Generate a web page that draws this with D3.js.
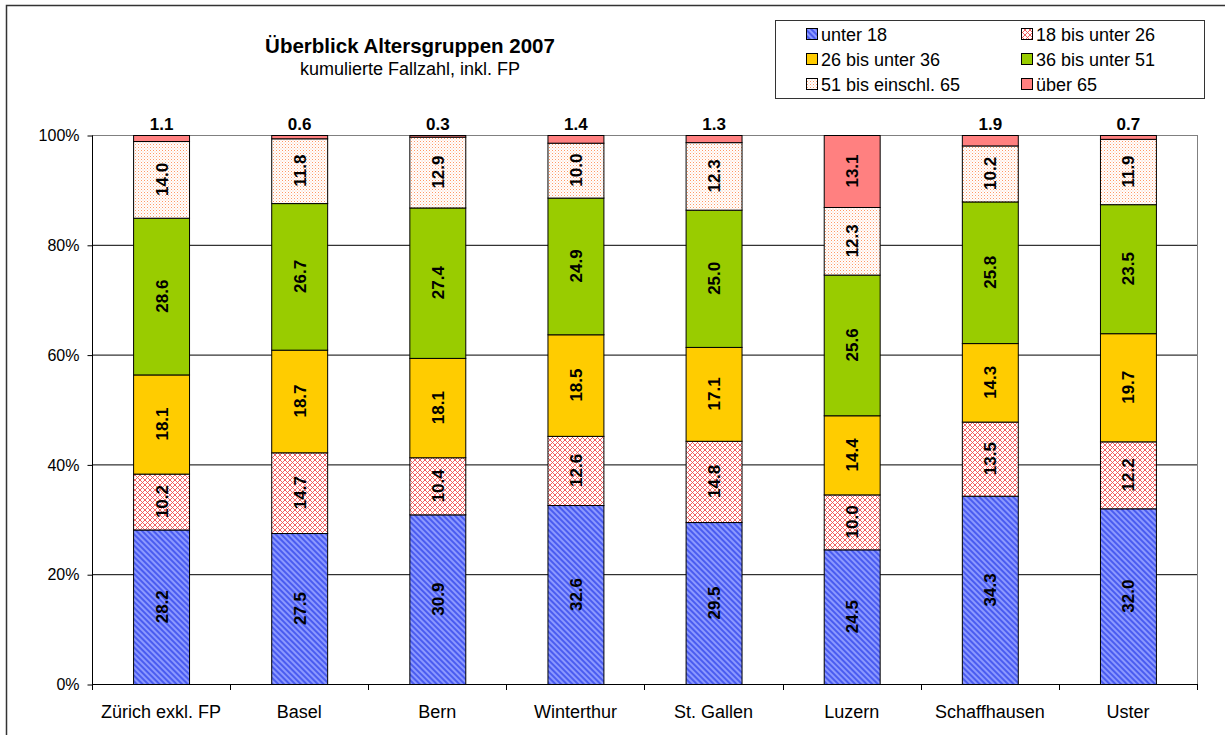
<!DOCTYPE html>
<html>
<head>
<meta charset="utf-8">
<script src="https://cdn.jsdelivr.net/npm/d3@7"></script>
<style>
  html, body { margin: 0; padding: 0; background: #fff; }
  svg { display: block; font-family: "Liberation Sans", Arial, sans-serif; }
</style>
</head>
<body>
<svg id="chart" width="1225" height="735"></svg>
<script>
const categories = ["Zürich exkl. FP", "Basel", "Bern", "Winterthur", "St. Gallen", "Luzern", "Schaffhausen", "Uster"];
const seriesNames = ["unter 18", "18 bis unter 26", "26 bis unter 36", "36 bis unter 51", "51 bis einschl. 65", "über 65"];
const unter18 = [28.2, 27.5, 30.9, 32.6, 29.5, 24.5, 34.3, 32.0];
const bis26 = [10.2, 14.7, 10.4, 12.6, 14.8, 10.0, 13.5, 12.2];
const bis36 = [18.1, 18.7, 18.1, 18.5, 17.1, 14.4, 14.3, 19.7];
const bis51 = [28.6, 26.7, 27.4, 24.9, 25.0, 25.6, 25.8, 23.5];
const bis65 = [14.0, 11.8, 12.9, 10.0, 12.3, 12.3, 10.2, 11.9];
const ueber65 = [1.1, 0.6, 0.3, 1.4, 1.3, 13.1, 1.9, 0.7];
const yTicks = [0, 0.2, 0.4, 0.6, 0.8, 1.0];
const titleText = "Überblick Altersgruppen 2007";
const subtitleText = "kumulierte Fallzahl, inkl. FP";

const seriesValues = [unter18, bis26, bis36, bis51, bis65, ueber65];
const keys = seriesNames;
const table = categories.map((c, i) => {
  const row = { cat: c };
  keys.forEach((k, j) => row[k] = seriesValues[j][i]);
  return row;
});

const svg = d3.select("#chart");
const defs = svg.append("defs");

// Patterns
const pStripe = defs.append("pattern").attr("id", "pStripe")
  .attr("patternUnits", "userSpaceOnUse").attr("width", 4).attr("height", 4)
  .attr("patternTransform", "rotate(-45)");
pStripe.append("rect").attr("width", 4).attr("height", 4).attr("fill", "#8c99ff");
pStripe.append("rect").attr("width", 2).attr("height", 4).attr("fill", "#4a5cf0");

const pCross = defs.append("pattern").attr("id", "pCross")
  .attr("patternUnits", "userSpaceOnUse").attr("width", 5).attr("height", 5);
pCross.append("rect").attr("width", 5).attr("height", 5).attr("fill", "#ffffff");
pCross.append("path").attr("d", "M0,0 L5,5 M5,0 L0,5").attr("stroke", "#f05050").attr("stroke-width", 0.9).attr("fill", "none");

const pDots = defs.append("pattern").attr("id", "pDots")
  .attr("patternUnits", "userSpaceOnUse").attr("width", 3).attr("height", 3);
pDots.append("rect").attr("width", 3).attr("height", 3).attr("fill", "#ffffff");
pDots.append("rect").attr("width", 1).attr("height", 1).attr("fill", "#ff9966");
pDots.append("rect").attr("x", 1.5).attr("y", 1.5).attr("width", 1).attr("height", 1).attr("fill", "#ffc4a8");

const fills = ["url(#pStripe)", "url(#pCross)", "#ffcc00", "#99cc00", "url(#pDots)", "#ff8080"];
const color = d3.scaleOrdinal().domain(keys).range(fills);

// Outer frame
svg.append("rect").attr("x", 6.5).attr("y", 5.5).attr("width", 1240).attr("height", 760)
  .attr("fill", "none").attr("stroke", "#333").attr("stroke-width", 1.5);

// Scales
const plotL = 92, plotR = 1197, plotT = 135, plotB = 684;
const x = d3.scaleBand().domain(categories).range([plotL, plotR])
  .paddingInner(0.595).paddingOuter(0.2975);
const y = d3.scaleLinear().domain([0, 1]).range([plotB, plotT]);

// Grid lines
svg.append("g").selectAll("line").data(yTicks.filter(t => t > 0 && t < 1)).join("line")
  .attr("x1", plotL).attr("x2", plotR)
  .attr("y1", d => y(d) + 0.5).attr("y2", d => y(d) + 0.5)
  .attr("stroke", "#000").attr("stroke-width", 1);

// Plot border (top/right gray)
svg.append("line").attr("x1", plotL).attr("x2", plotR + 0.5).attr("y1", y(1) + 0.5).attr("y2", y(1) + 0.5)
  .attr("stroke", "#808080").attr("stroke-width", 1);
svg.append("line").attr("x1", plotR + 0.5).attr("x2", plotR + 0.5).attr("y1", y(1)).attr("y2", y(0))
  .attr("stroke", "#808080").attr("stroke-width", 1);

// Stack
const stack = d3.stack().keys(keys).offset(d3.stackOffsetExpand);
const stacked = stack(table);

const gBars = svg.append("g");
stacked.forEach((layer, li) => {
  gBars.append("g").selectAll("rect").data(layer).join("rect")
    .attr("x", d => x(d.data.cat) + 0.5)
    .attr("y", d => y(d[1]) + 0.5)
    .attr("width", x.bandwidth())
    .attr("height", d => Math.max(0, y(d[0]) - y(d[1])))
    .attr("fill", color(layer.key))
    .attr("stroke", "#000").attr("stroke-width", 1);
});

// Labels
const gLab = svg.append("g").attr("font-weight", "bold").attr("font-size", 17).attr("fill", "#000");
stacked.forEach((layer, li) => {
  layer.forEach((d, i) => {
    const v = seriesValues[li][i];
    const cx = x(d.data.cat) + x.bandwidth() / 2 + 0.5;
    if (v < 5) {
      gLab.append("text").attr("x", cx).attr("y", y(d[1]) - 5)
        .attr("text-anchor", "middle").text(v.toFixed(1));
    } else {
      const cy = (y(d[0]) + y(d[1])) / 2;
      gLab.append("text").attr("transform", `translate(${cx + 6},${cy}) rotate(-90)`)
        .attr("text-anchor", "middle").text(v.toFixed(1));
    }
  });
});

// Y axis
const yAxis = d3.axisLeft(y).tickValues(yTicks).tickFormat(d3.format(".0%")).tickSize(5).tickPadding(8);
const gy = svg.append("g").attr("transform", `translate(${plotL + 0.5},0.5)`).call(yAxis);
gy.select(".domain").attr("stroke", "#000").attr("d", `M0,${y(1)}V${y(0)}`);
gy.selectAll(".tick line").attr("stroke", "#000");
gy.selectAll(".tick text").attr("font-size", 16).attr("fill", "#000")
  .attr("font-family", "'Liberation Sans', Arial, sans-serif");

// X axis
svg.append("line").attr("x1", plotL).attr("x2", plotR + 1).attr("y1", plotB + 0.5).attr("y2", plotB + 0.5)
  .attr("stroke", "#000");
const gap = (x.step() - x.bandwidth()) / 2;
const bounds = categories.map(c => x(c) - gap).concat([x(categories[categories.length - 1]) + x.bandwidth() + gap]);
svg.append("g").selectAll("line").data(bounds).join("line")
  .attr("x1", d => Math.round(d) + 0.5).attr("x2", d => Math.round(d) + 0.5)
  .attr("y1", plotB).attr("y2", plotB + 6).attr("stroke", "#000");
svg.append("g").selectAll("text").data(categories).join("text")
  .attr("x", d => x(d) + x.bandwidth() / 2)
  .attr("y", 718).attr("text-anchor", "middle").attr("font-size", 18).attr("fill", "#000")
  .text(d => d);

// Title
svg.append("text").attr("x", 410).attr("y", 53).attr("text-anchor", "middle")
  .attr("font-weight", "bold").attr("font-size", 20.5).text(titleText);
svg.append("text").attr("x", 410).attr("y", 75).attr("text-anchor", "middle")
  .attr("font-size", 18).text(subtitleText);

// Legend
const lg = svg.append("g");
lg.append("rect").attr("x", 775.5).attr("y", 20.5).attr("width", 429).attr("height", 78)
  .attr("fill", "#fff").attr("stroke", "#333").attr("stroke-width", 1);
const legCols = [806, 1021];
const legRows = [35, 60, 85];
keys.forEach((k, i) => {
  const cx = legCols[i % 2], cy = legRows[Math.floor(i / 2)];
  lg.append("rect").attr("x", cx + 0.5).attr("y", cy - 6.5).attr("width", 11).attr("height", 11)
    .attr("fill", color(k)).attr("stroke", "#000").attr("stroke-width", 1);
  lg.append("text").attr("x", cx + 15).attr("y", cy + 6).attr("font-size", 18).text(k);
});
</script>
</body>
</html>
